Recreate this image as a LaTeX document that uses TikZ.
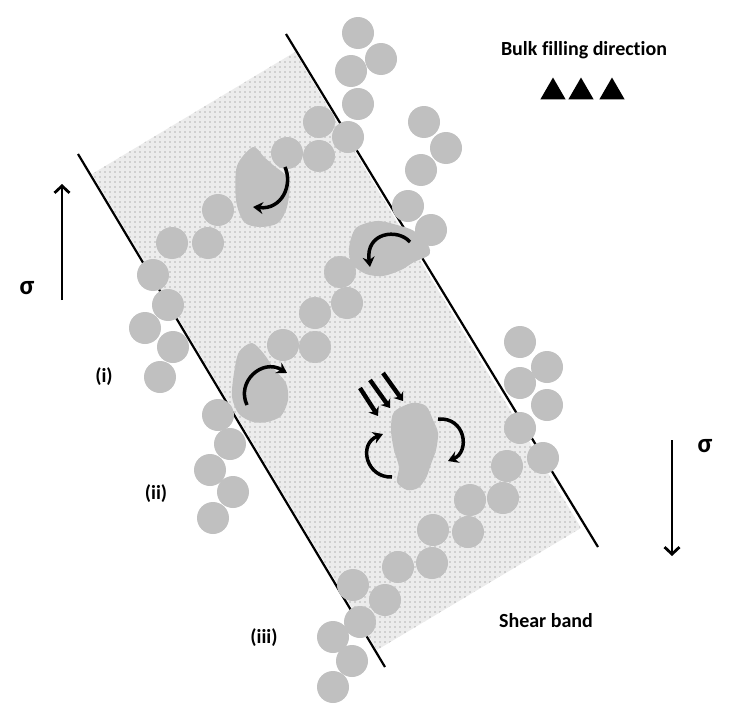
\documentclass[tikz,border=0pt]{standalone}
\usepackage{fontspec}
\setmainfont{Carlito}[Ligatures=NoCommon]
\usetikzlibrary{shapes.geometric,patterns.meta,arrows.meta}
\definecolor{grainc}{RGB}{192,192,192}
\definecolor{bandc}{RGB}{236,236,236}
\begin{document}
\begin{tikzpicture}[x=1pt,y=-1pt,
	grain/.style={circle,fill=grainc,minimum size=32pt,inner sep=0pt},
	blob/.style={fill=grainc},
	wall/.style={line width=2.2pt},
	spin/.style={line width=3.5pt,-{Stealth[length=10pt,width=12pt]}},
	push/.style={line width=4.4pt,-{Stealth[length=8pt,width=12pt]}},
	load/.style={line width=2.8pt,-{Straight Barb[length=7pt,width=15pt]}},
	lbl/.style={font=\fontsize{20}{22}\selectfont\bfseries,inner sep=0pt},
	tri/.style={regular polygon,regular polygon sides=3,fill=black,minimum size=29pt,inner sep=0pt}]
\useasboundingbox (0,0) rectangle (732,712);
% shear band
\fill[bandc] (92,174) -- (295,52) -- (581,528) -- (377,650) -- cycle;
\fill[pattern={Dots[distance=5pt,radius=0.6pt]},pattern color=gray!90!black] (92,174) -- (295,52) -- (581,528) -- (377,650) -- cycle;
\coordinate (l1) at (78,154);
\coordinate (l2) at (385,667);
\coordinate (r1) at (286,34);
\coordinate (r2) at (598,547);
\draw[wall] (l1) -- (l2);
\draw[wall] (r1) -- (r2);
% grains
\foreach \x/\y [count=\i] in {358/33,381/59,351/71,358/104,424/122,446/148,421/170,408/206,431/230,
	319/122,348/137,287/153,319/156,218/210,172/243,208/243,340/272,
	153/275,168/305,145/328,173/347,160/377,218/415,230/444,210/470,233/492,213/518,
	283/345,315/347,315/313,347/303,
	520/342,547/367,520/383,547/405,520/428,543/458,507/466,470/500,503/498,433/530,468/532,
	398/567,432/563,353/585,385/600,360/622,333/637,352/661,333/687}
	\node[grain] (g\i) at (\x,\y) {};
% irregular particles
\fill[blob] plot[smooth cycle] coordinates {(253,147) (264,157) (273,165) (289,180) (287,207) (278,223) (260,227) (244,222) (236,200) (237,166)};
\fill[blob] plot[smooth cycle] coordinates {(349,248) (356,228) (377,221) (397,225) (414,231) (428,245) (429,255) (414,262) (401,270) (383,276) (366,274) (352,264)};
\fill[blob] plot[smooth cycle] coordinates {(252,343) (264,354) (274,369) (286,383) (288,400) (281,416) (267,422) (253,422) (239,414) (232,397) (234,373) (239,352)};
\fill[blob] plot[smooth cycle] coordinates {(412,403) (426,406) (433,420) (438,433) (436,450) (431,464) (426,478) (418,488) (407,490) (397,482) (399,467) (394,450) (391,430) (394,412)};
% rotations
\draw[spin] (285,167) .. controls (293,185) and (282,210) .. (253,207);
\draw[spin] (410,242) .. controls (398,228) and (365,232) .. (370,267);
\draw[spin] (247,405) .. controls (236,382) and (262,358) .. (287,373);
\draw[spin] (392,477) .. controls (366,478) and (358,444) .. (383,434);
\draw[spin] (438,419) .. controls (466,417) and (470,452) .. (448,461);
% compaction
\foreach \a/\b/\c/\d [count=\i] in {360/388/378/416,370/380/390/408,383/373/403/401}
	\draw[push] (\a,\b) -- (\c,\d);
% stresses
\draw[load] (62,300) -- (62,184);
\draw[load] (672,440) -- (672,556);
\node[lbl,font=\fontsize{27}{29}\selectfont\bfseries] (s1) at (27,288) {σ};
\node[lbl,font=\fontsize{27}{29}\selectfont\bfseries] (s2) at (705,446) {σ};
% labels
\node[lbl] (bulk) at (584,50) {Bulk filling direction};
\foreach \x [count=\i] in {553,581,612}
	\node[tri] (t\i) at (\x,92) {};
\node[lbl] (shear) at (546,621) {Shear band};
\node[lbl] (i1) at (104,377) {(i)};
\node[lbl] (i2) at (156,494) {(ii)};
\node[lbl] (i3) at (264,638) {(iii)};
\end{tikzpicture}
\end{document}
